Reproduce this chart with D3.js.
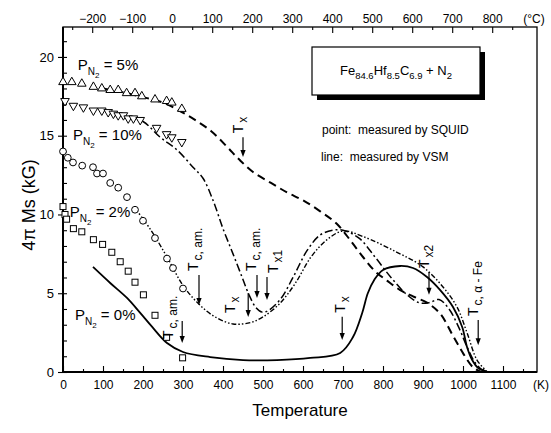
<!DOCTYPE html>
<html><head><meta charset="utf-8">
<script src="https://cdn.jsdelivr.net/npm/d3@7"></script>
<style>
body{margin:0;background:#fff}
svg{display:block}
text{font-family:"Liberation Sans",Arial,Helvetica,sans-serif;fill:#000}
</style>
</head><body>
<svg id="c" width="551" height="433"></svg>
<script>
// ---------- data (T in K, 4πMs in kG) ----------
const ticksK = [0,100,200,300,400,500,600,700,800,900,1000,1100];
const ticksC = [-200,-100,0,100,200,300,400,500,600,700,800];
const ticksM = [0,5,10,15,20];

// SQUID points
const sq5T  = [0,22,47,76,97,118,138,159,180,197,230,259,272,297];
const sq5M  = [18.4,18.4,18.3,18.1,18.0,17.9,17.9,17.7,17.7,17.5,17.3,17.2,17.1,16.7];
const sq10T = [5,26,51,76,97,113,126,138,151,163,176,193,234,259,272,297];
const sq10M = [17.2,16.9,16.8,16.6,16.6,16.5,16.4,16.3,16.3,16.1,16.1,16.0,15.5,15.1,14.9,14.6];
const sq2T  = [0,12,25,48,75,85,100,118,138,160,180,200,230,260,275,300];
const sq2M  = [14.0,13.6,13.3,13.1,13.0,12.6,12.6,12.0,11.7,11.1,10.3,9.6,8.5,7.2,6.6,5.3];
const sq0T  = [0,5,9,26,47,76,99,122,143,163,180,201,230,259,299];
const sq0M  = [10.5,10.0,9.7,9.1,8.9,8.4,8.1,7.6,7.0,6.4,5.7,4.9,3.6,2.2,0.9];

// VSM lines
const ln0T  = [75,118,160,193,223,260,300,368,450,535,618,693,725,748,762,778,800,843,875,910,943,975,998,1010,1023,1038,1060];
const ln0M  = [6.67,5.65,4.70,3.75,2.86,1.84,1.27,0.95,0.76,0.76,0.89,1.21,2.22,3.75,5.0,5.84,6.48,6.73,6.6,6.03,5.2,4.13,2.86,1.59,0.76,0.25,0.03];
const ln2T  = [180,220,260,300,340,380,425,470,500,540,580,620,660,700,750,835,900,950,985,1010,1035,1060];
const ln2M  = [10.4,9.0,7.3,5.5,4.3,3.5,3.05,3.15,3.5,4.3,5.6,7.3,8.4,8.95,8.6,7.6,6.67,5.4,4.13,2.5,0.76,0.02];
const ln10T = [120,160,200,243,285,325,350,375,400,425,448,465,482,498,513,543,575,610,643,675,700,740,780,820,860,890,915,940,965,990,1010,1030,1050,1065];
const ln10M = [16.4,16.2,15.9,14.9,14.1,13.0,12.3,10.9,9.1,7.5,6.0,4.9,4.1,3.8,3.9,4.6,6.0,7.7,8.7,9.0,9.0,8.5,7.3,6.0,4.9,4.4,4.4,4.6,4.0,2.8,1.6,0.6,0.1,0];
const ln5T  = [100,150,200,250,297,330,370,410,440,475,520,560,600,643,685,720,750,780,810,843,875,910,943,975,1000,1025,1045];
const ln5M  = [18.0,17.75,17.45,17.1,16.5,16.0,15.3,14.3,13.5,12.7,12.0,11.4,10.9,10.2,9.4,8.3,7.3,6.4,5.8,5.2,4.8,4.4,3.7,2.3,1.2,0.3,0];

// ---------- scales ----------
const svg = d3.select("#c");
const L = 63, R = 537, B = 372, Tp = 27;
const x  = d3.scaleLinear().domain([0,1185]).range([L,R]);
const xc = d3.scaleLinear().domain([-273,912]).range([L,R]);
const y  = d3.scaleLinear().domain([0,21.9]).range([B,Tp]);

// ---------- axes ----------
function clean(g){ g.select(".domain").remove(); g.selectAll("line").attr("stroke","#000").attr("stroke-width",1.1); }
const fs = "12px";
svg.append("g").attr("transform",`translate(0,${B})`)
  .call(d3.axisBottom(x).tickValues(ticksK).tickSizeInner(-6).tickSizeOuter(0).tickPadding(8).tickFormat(d3.format("d")))
  .call(clean).call(g=>g.selectAll("text").style("font-size",fs).style("font-family","Liberation Sans, Arial"));
svg.append("g").attr("transform",`translate(0,${B})`)
  .call(d3.axisBottom(x).tickValues(d3.range(50,1185,100)).tickSizeInner(-3).tickSizeOuter(0).tickFormat(""))
  .call(clean);
svg.append("g").attr("transform",`translate(0,${Tp})`)
  .call(d3.axisTop(xc).tickValues(ticksC).tickSizeInner(-6).tickSizeOuter(0).tickPadding(4).tickFormat(d3.format("d")))
  .call(clean).call(g=>g.selectAll("text").style("font-size",fs).style("font-family","Liberation Sans, Arial"));
svg.append("g").attr("transform",`translate(0,${Tp})`)
  .call(d3.axisTop(xc).tickValues(d3.range(-250,912,100)).tickSizeInner(-3).tickSizeOuter(0).tickFormat(""))
  .call(clean);
svg.append("g").attr("transform",`translate(${L},0)`)
  .call(d3.axisLeft(y).tickValues(ticksM).tickSizeInner(5).tickSizeOuter(0).tickPadding(4).tickFormat(d3.format("d")))
  .call(clean).call(g=>g.selectAll("text").style("font-size","13px").style("font-family","Liberation Sans, Arial"));
svg.append("g").attr("transform",`translate(${L},0)`)
  .call(d3.axisLeft(y).tickValues(d3.range(0,22,1)).tickSizeInner(-4).tickSizeOuter(0).tickFormat(""))
  .call(clean);

// frame
svg.append("rect").attr("x",L).attr("y",Tp).attr("width",R-L).attr("height",B-Tp)
  .attr("fill","none").attr("stroke","#000").attr("stroke-width",1.3);
svg.append("line").attr("x1",L).attr("x2",L).attr("y1",Tp).attr("y2",B).attr("stroke","#000").attr("stroke-width",2);
svg.append("line").attr("x1",L).attr("x2",R).attr("y1",B).attr("y2",B).attr("stroke","#000").attr("stroke-width",1.8);

// unit labels
svg.append("text").attr("x",541).attr("y",389).attr("text-anchor","middle").style("font-size",fs).text("(K)");
svg.append("text").attr("x",534).attr("y",23).attr("text-anchor","middle").style("font-size",fs).text("(\u00B0C)");

// titles
svg.append("text").attr("x",300).attr("y",416).attr("text-anchor","middle").style("font-size","17px").text("Temperature");
svg.append("text").attr("transform","translate(35,205) rotate(-90)").attr("text-anchor","middle").style("font-size","18px").text("4\u03C0 Ms (kG)");

// ---------- lines ----------
const gl = svg.append("g").attr("fill","none").attr("stroke","#000");
function drawLine(T,M,dash,w){
  const pts = T.map((t,i)=>[t,M[i]]);
  gl.append("path").datum(pts)
    .attr("d", d3.line().x(d=>x(d[0])).y(d=>y(d[1])).curve(d3.curveCatmullRom.alpha(0.5)))
    .attr("stroke-width",w).attr("stroke-dasharray",dash);
}
drawLine(ln0T, ln0M, null, 1.8);
drawLine(ln5T, ln5M, "8,5", 2);
drawLine(ln10T, ln10M, "8,3,2,3", 1.5);
drawLine(ln2T, ln2M, "5,2,1.5,2,1.5,2", 1.4);

// ---------- points ----------
const gp = svg.append("g").attr("fill","#fff").attr("stroke","#000").attr("stroke-width",1);
const tri = d3.symbol().type(d3.symbolTriangle).size(32)();
sq5T.forEach((t,i)=>gp.append("path").attr("d",tri).attr("transform",`translate(${x(t)},${y(sq5M[i])})`));
sq10T.forEach((t,i)=>gp.append("path").attr("d",tri).attr("transform",`translate(${x(t)},${y(sq10M[i])}) rotate(180)`));
sq2T.forEach((t,i)=>gp.append("circle").attr("cx",x(t)).attr("cy",y(sq2M[i])).attr("r",3.4));
sq0T.forEach((t,i)=>gp.append("rect").attr("x",x(t)-3).attr("y",y(sq0M[i])-3).attr("width",6).attr("height",6));

// ---------- series labels ----------
const serLabT = [37, 25, 17, 30];
const serLabM = [19.2, 14.7, 9.84, 3.3];
const serLabTxt = ["5%","10%","2%","0%"];
serLabT.forEach((t,i)=>{
  const tx = svg.append("text").attr("x",x(t)).attr("y",y(serLabM[i])).style("font-size","15px");
  tx.append("tspan").text("P");
  tx.append("tspan").attr("dy",5).style("font-size","10px").text("N");
  tx.append("tspan").attr("dy",3).style("font-size","8px").text("2");
  tx.append("tspan").attr("dy",-8).text(" = " + serLabTxt[i]);
});

// ---------- annotations (arrow + rotated label) ----------
const annT   = [450, 298, 340, 463, 485, 510, 698, 915, 1038];
const annM1  = [14.9, 3.24, 6.16, 5.02, 6.16, 6.03, 3.5, 6.35, 3.3];
const annM2  = [13.65, 1.84, 4.25, 3.49, 4.7, 4.57, 2.03, 4.9, 1.7];
const annSub = ["x","c, am.","c, am.","x","c, am.","x1","x","x2","c, \u03B1 - Fe"];
const annDx  = [0, -9, -1, -13, -1, 11, 3, 0, 0];
const annFromBottom = [false,true,false,true,false,false,false,false,false];
const ga = svg.append("g");
annT.forEach((t,i)=>{
  const ax = x(t), y1 = y(annM1[i]), y2 = y(annM2[i]);
  ga.append("line").attr("x1",ax).attr("x2",ax).attr("y1",y1).attr("y2",y2-5)
    .attr("stroke","#000").attr("stroke-width",1.2);
  ga.append("path").attr("d",`M${ax-2.6},${y2-7}L${ax+2.6},${y2-7}L${ax},${y2}Z`).attr("fill","#000");
  const sy = annFromBottom[i] ? y2-4 : y1-4;
  const tx = ga.append("text").attr("transform",`translate(${ax+annDx[i]},${sy}) rotate(-90)`).style("font-size","14px");
  tx.append("tspan").text("T");
  tx.append("tspan").attr("dx",2).attr("dy",4).style("font-size","12px").text(annSub[i]);
});

// ---------- legend box ----------
const lg = svg.append("g");
lg.append("rect").attr("x",317).attr("y",52).attr("width",168).attr("height",48).attr("fill","#000");
lg.append("rect").attr("x",312).attr("y",47).attr("width",168).attr("height",48).attr("fill","#fff").attr("stroke","#000").attr("stroke-width",1.2);
const lt = lg.append("text").attr("x",396).attr("y",75).attr("text-anchor","middle").style("font-size","13px");
[["Fe",0],["84.6",1],["Hf",0],["8.5",1],["C",0],["6.9",1],[" + N",0],["2",1]].forEach(([s,sub],k,arr)=>{
  const prevSub = k>0 && arr[k-1][1];
  const dy = sub ? (prevSub?0:4) : (prevSub?-4:0);
  lt.append("tspan").attr("dy",dy).style("font-size",sub?"9.5px":"13px").text(s);
});
svg.append("text").attr("x",322).attr("y",134).style("font-size","12px").attr("xml:space","preserve").text("point:  measured by SQUID");
svg.append("text").attr("x",321).attr("y",161).style("font-size","12px").attr("xml:space","preserve").text("line:  measured by VSM");
</script>
</body></html>
